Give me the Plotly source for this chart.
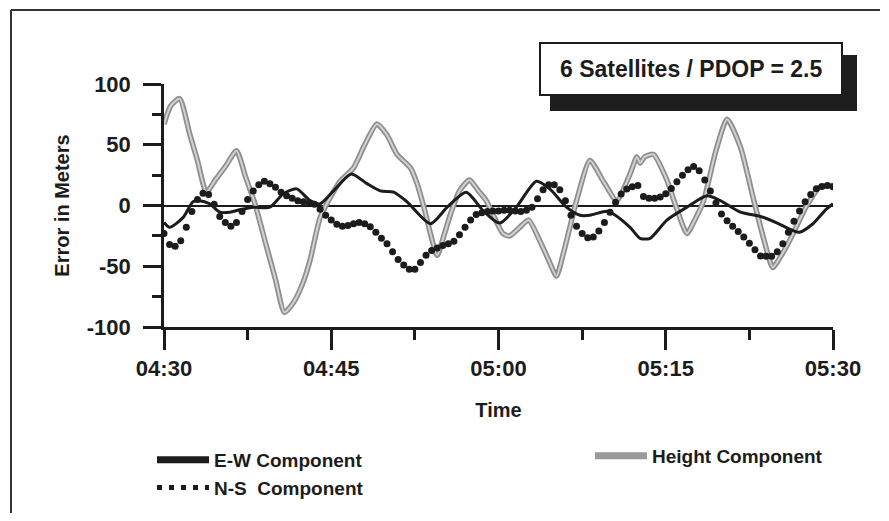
import plotly.graph_objects as go

# ---- data (minutes after 04:30) ----
ns_t = [i * 0.5 for i in range(121)]
ns_v = [-23, -32, -33.5, -29, -18, -5, 5, 10, 9, 1,
        -9, -14, -17, -14, -5, 5, 12, 17, 20, 18,
        15, 11, 8, 6, 4, 3, 2, 1, -3, -8,
        -12, -15.5, -17, -16.5, -15, -14, -15, -17.5, -22, -27,
        -31.5, -38, -44.5, -49, -52.5, -52.5, -47, -41, -37, -35,
        -33, -31.5, -29.5, -24, -18, -12, -7.5, -6, -5, -4.5,
        -4.5, -4, -4, -4.5, -5, -4, -1.5, 5.5, 13, 17,
        17, 13, 4, -8, -17, -23, -26.5, -26, -21, -14,
        -5.5, 2.7, 9.5, 13.5, 15.5, 16.5, 7.5, 6, 6, 7,
        9.6, 14, 19.5, 25, 29.5, 32, 28.5, 21, 12, 2,
        -7, -12.5, -17, -21.5, -26, -31, -36.5, -41.5, -41.7, -41.7,
        -38, -31.5, -22, -13, -4.5, 3, 9, 13.7, 15.6, 16.5,
        15.5]

ew_t = [0, 0.5, 1.7, 2.6, 3.2, 4.1, 5.0, 5.9, 6.8, 8.0, 9.5, 10.7, 11.9, 13.1,
        14.0, 15.2, 16.8, 18.2, 19.4, 20.6, 21.8, 23.9, 25.4, 27.1, 28.6, 30.1,
        31.6, 33.4, 34.6, 36.1, 37.3, 38.2, 39.7, 40.3, 41.8, 42.7, 43.6, 45.1,
        46.9, 48.7, 49.9, 51.7, 53.5, 54.9, 56.4, 57.0, 58.2, 59.4, 60]
ew_v = [-14, -18, -10, 3, 4, 1.4, -5.5, -5.5, -3.5, -1.4, -1.4, 9.6, 13.7, 4,
        1.4, 12, 26, 18, 12, 11, 3, -15, -1.4, 11, -4, -14.5,
        -1.4, 20, 13.7, -1.4, -8, -8, -4.7, -7, -18, -27, -27, -12,
        -1.4, 8, 4, -5.5, -9, -14, -20.6, -22, -15, -3, 1.4]

ht_t = [0, 0.6, 1.4, 2.3, 3.0, 3.8, 4.6, 5.5, 6.5, 7.3, 8.2, 9.2, 10.0, 10.8,
        11.6, 12.4, 13.1, 14.0, 15.0, 15.8, 17.0, 18.0, 19.1, 20.0, 20.9, 22.1,
        22.7, 23.3, 24.5, 25.0, 25.7, 26.5, 27.4, 28.2, 28.9, 30.4, 31.0, 31.9,
        32.7, 33.7, 34.5, 35.2, 35.8, 36.4, 37.0, 38.2, 39.4, 40.6, 41.8, 42.4,
        42.7, 43.1, 43.9, 45.1, 46.0, 46.9, 47.6, 48.4, 49.5, 50.5, 51.7, 52.9,
        53.8, 54.6, 55.3, 56.1, 57.6, 58.8, 60]
ht_v = [67, 82, 88, 59, 37, 11, 21, 32, 45, 24, 0, -34, -61, -88,
        -80, -65, -45, -10, 8, 20, 31, 50, 67, 58, 42, 31,
        18, -1, -41, -28, -7, 12, 21, 12, 4, -23, -25, -18,
        -12, -29, -45, -58, -40, -18, 4, 37, 20, 4, 26, 40,
        35, 40, 42, 21, -3, -23, -12, 4, 45, 71, 48, 4,
        -28, -51, -42, -29, -1, 15, 16.5]

x_tick_vals = [0, 15, 30, 45, 60]
x_tick_text = ["04:30", "04:45", "05:00", "05:15", "05:30"]
y_tick_vals = [-100, -50, 0, 50, 100]
y_tick_text = ["-100", "-50", "0", "50", "100"]

FONT = "Liberation Sans, Arial, Helvetica, sans-serif"
INK = "#1c1c1c"
GRAY_OUT = "#8e8e8e"
GRAY_IN = "#d2d2d2"

# page body adds an 8px margin; lay the figure out in page pixels
OFF = 8
W, H = 889 - 2 * OFF, 521 - 2 * OFF
L, R, T, B = 164 - OFF, 833 - OFF, 84 - OFF, 327 - OFF
def px(xp):
    return (xp - OFF - L) / (R - L)
def py(yp):
    return (B - (yp - OFF)) / (B - T)

fig = go.Figure()

# data traces
fig.add_trace(go.Scatter(x=ht_t, y=ht_v, mode="lines", showlegend=False,
                         line=dict(color=GRAY_OUT, width=5.5, shape="spline", smoothing=0.6)))
fig.add_trace(go.Scatter(x=ht_t, y=ht_v, mode="lines", showlegend=False,
                         line=dict(color=GRAY_IN, width=2, shape="spline", smoothing=0.6)))
fig.add_trace(go.Scatter(x=ew_t, y=ew_v, mode="lines", showlegend=False,
                         line=dict(color=INK, width=3, shape="spline", smoothing=0.7)))
fig.add_trace(go.Scatter(x=ns_t, y=ns_v, mode="markers", showlegend=False,
                         marker=dict(color=INK, size=7)))

# legend entries
fig.add_trace(go.Scatter(x=[None], y=[None], mode="lines", name="E-W Component",
                         line=dict(color=INK, width=7), legend="legend"))
fig.add_trace(go.Scatter(x=[None], y=[None], mode="lines", name="N-S  Component",
                         line=dict(color=INK, width=5, dash="5px,7px"), legend="legend"))
fig.add_trace(go.Scatter(x=[None], y=[None], mode="lines", name="Height Component",
                         line=dict(color="#9a9a9a", width=7), legend="legend2"))

shapes = [
    # page frame (left and top edges)
    dict(type="line", xref="paper", yref="paper", x0=px(11), x1=px(11), y0=py(10), y1=py(513),
         line=dict(color="#333", width=2)),
    dict(type="line", xref="paper", yref="paper", x0=px(11), x1=px(880), y0=py(10), y1=py(10),
         line=dict(color="#333", width=2)),
    # shadow
    dict(type="rect", xref="paper", yref="paper", x0=px(550), x1=px(857), y0=py(111), y1=py(55),
         fillcolor="#1e1e1e", line=dict(width=0)),
    # box
    dict(type="rect", xref="paper", yref="paper", x0=px(540), x1=px(842), y0=py(95), y1=py(43),
         fillcolor="white", line=dict(color=INK, width=2)),
]

legend_font = dict(size=19, family=FONT, color=INK, weight="bold")

fig.update_layout(
    width=W, height=H,
    margin=dict(l=L, r=W - R, t=T, b=H - B, autoexpand=False),
    paper_bgcolor="white", plot_bgcolor="white",
    font=dict(family=FONT, color=INK, size=20, weight="bold"),
    showlegend=True,
    legend=dict(orientation="v", x=px(152), y=py(441), xanchor="left", yanchor="top",
                itemwidth=52, font=legend_font, bgcolor="rgba(0,0,0,0)", traceorder="normal"),
    legend2=dict(orientation="v", x=px(590), y=py(437), xanchor="left", yanchor="top",
                 itemwidth=52, font=legend_font, bgcolor="rgba(0,0,0,0)"),
    shapes=shapes,
    annotations=[dict(xref="paper", yref="paper", x=px(691), y=py(69), showarrow=False,
                      xanchor="center", yanchor="middle",
                      text="6 Satellites / PDOP = 2.5",
                      font=dict(size=23, family=FONT, color=INK, weight="bold"))],
)

fig.update_xaxes(range=[0, 60], tickvals=x_tick_vals, ticktext=x_tick_text,
                 showgrid=False, zeroline=False, showline=True, linecolor=INK, linewidth=2.5,
                 ticks="outside", ticklen=20, tickwidth=2.5, tickcolor=INK,
                 tickfont=dict(size=22, family=FONT, weight="bold"),
                 ticklabelstandoff=0, automargin=False,
                 minor=dict(tick0=0, dtick=7.5, ticks="outside", ticklen=10, tickwidth=2.5,
                            tickcolor=INK, showgrid=False),
                 title=dict(text="Time", standoff=23,
                            font=dict(size=20, family=FONT, weight="bold")))
fig.update_yaxes(range=[-100, 100], tickvals=y_tick_vals, ticktext=y_tick_text,
                 showgrid=False, zeroline=True, zerolinecolor=INK, zerolinewidth=2,
                 showline=True, linecolor=INK, linewidth=2.5,
                 ticks="outside", ticklen=18, tickwidth=2.5, tickcolor=INK,
                 tickfont=dict(size=22, family=FONT, weight="bold"),
                 ticklabelstandoff=8, automargin=False,
                 minor=dict(tick0=0, dtick=25, ticks="outside", ticklen=9, tickwidth=2.5,
                            tickcolor=INK, showgrid=False),
                 title=dict(text="Error in Meters", standoff=12,
                            font=dict(size=20, family=FONT, weight="bold")))

fig.write_html("out.html")
